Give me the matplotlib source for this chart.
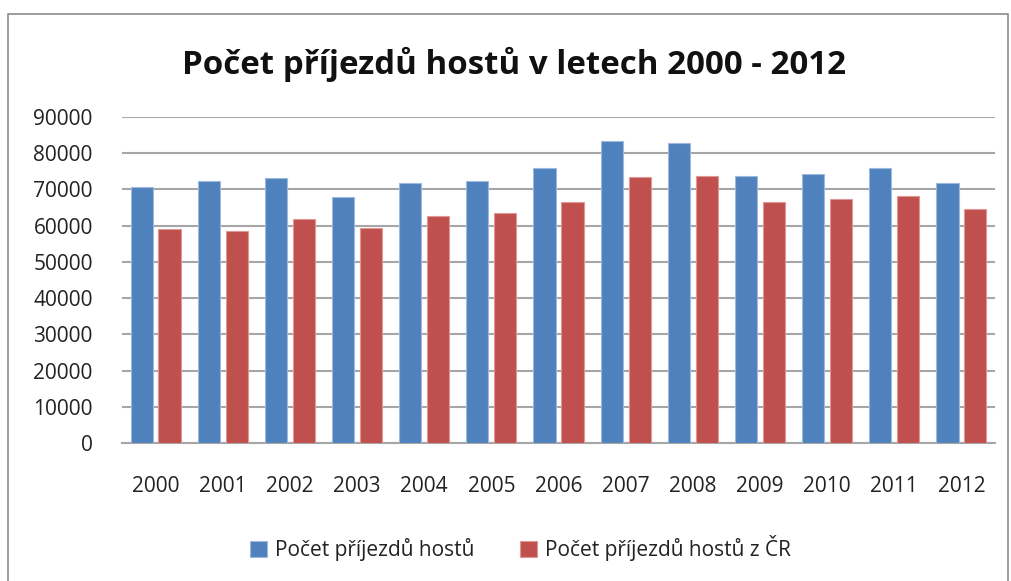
import matplotlib
matplotlib.use("Agg")
import matplotlib.pyplot as plt
import numpy as np
from matplotlib.patches import Rectangle

years = ["2000", "2001", "2002", "2003", "2004", "2005", "2006",
         "2007", "2008", "2009", "2010", "2011", "2012"]
guests_total = [70700, 72200, 73100, 68000, 71850, 72450, 75800,
                83400, 82750, 73800, 74150, 75800, 71850]
guests_cz = [59100, 58450, 61850, 59450, 62750, 63400, 66450,
             73500, 73800, 66600, 67400, 68300, 64500]
title = "Počet příjezdů hostů v letech 2000 - 2012"
label_total = "Počet příjezdů hostů"
label_cz = "Počet příjezdů hostů z ČR"

plt.rcParams['font.family'] = ['Open Sans', 'DejaVu Sans']

fig = plt.figure(figsize=(10.11, 5.81), dpi=100)
ax = fig.add_axes([122/1011, 1-443/581, (995-122)/1011, (443-117)/581])

x = np.arange(len(years))
w = 0.33
off = 0.208
b1 = ax.bar(x - off, guests_total, w, color='#4F81BD', edgecolor='#9DB9DD',
            linewidth=0.8, label=label_total, zorder=3)
b2 = ax.bar(x + off, guests_cz, w, color='#C0504D', edgecolor='#E09896',
            linewidth=0.8, label=label_cz, zorder=3)

ax.set_xlim(-0.5, len(years) - 0.5)
ax.set_ylim(0, 90000)
ax.set_yticks(np.arange(0, 90001, 10000))
ax.set_yticklabels([str(v) for v in range(0, 90001, 10000)], fontsize=15, color='#222222')
ax.set_xticks(x)
ax.set_xticklabels(years, fontsize=15, color='#222222')
ax.tick_params(axis='both', length=0)
ax.tick_params(axis='y', pad=21)
ax.tick_params(axis='x', pad=24)
ax.yaxis.grid(True, color='#A6A6A6', linewidth=1.5, zorder=0)
ax.set_axisbelow(True)
for s in ['left', 'right', 'top']:
    ax.spines[s].set_visible(False)
ax.spines['bottom'].set_color('#A6A6A6')
ax.spines['bottom'].set_linewidth(1.5)

fig.text(0.508, 1-64/581, title, ha='center', va='center', fontsize=23.8,
         fontweight='bold', color='#111111')

leg = fig.legend(handles=[b1, b2], loc='center', bbox_to_anchor=(0.515, 1-548/581),
                 ncol=2, frameon=False, fontsize=15, handlelength=0.8,
                 handleheight=0.8, handletextpad=0.4, columnspacing=2.2)
for t in leg.get_texts():
    t.set_color('#222222')

fig.patches.append(Rectangle((8/1011, -0.05), (1008-8)/1011, (1-14/581) + 0.05,
                             transform=fig.transFigure, fill=False,
                             edgecolor='#8C8C8C', linewidth=1.2))

fig.savefig("out.png", dpi=100)
